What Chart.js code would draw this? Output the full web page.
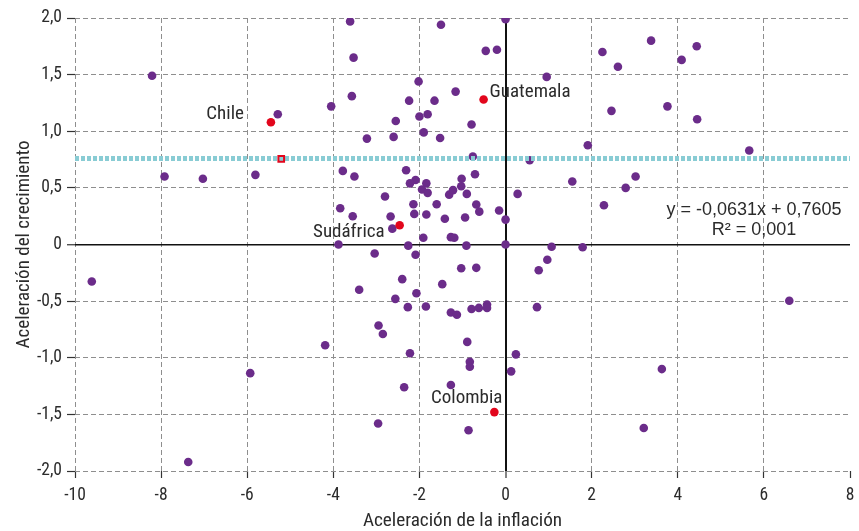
<!DOCTYPE html>
<html>
<head>
<meta charset="utf-8">
<script src="https://cdn.jsdelivr.net/npm/chart.js@4/dist/chart.umd.min.js"></script>
<style>
  html, body { margin: 0; padding: 0; background: #ffffff; }
  #wrap { width: 859px; height: 531px; position: relative; }
</style>
</head>
<body>
<div id="wrap"><canvas id="c" width="859" height="531"></canvas></div>
<script>
// ---- Data ----
const countryX = [-8.21,-3.61,-3.53,-3.57,-4.05,-5.29,-7.92,-7.03,-5.81,-3.78,-3.51,-3.84,-3.55,-3.88,
  -1.50,0.00,-0.46,-0.20,-2.02,-1.16,-2.24,-1.65,-2.55,-1.81,-2.00,-0.79,-3.22,-2.60,-1.90,-1.52,
  -0.76,0.56,-2.31,-0.71,-1.02,-2.09,-2.22,-1.84,-1.03,-1.94,-1.81,-1.31,-1.22,-0.90,0.28,-2.80,
  -2.14,-1.60,-0.68,-0.61,-0.15,-2.12,-1.84,-2.67,-1.41,-0.94,0.00,-2.63,-1.91,-1.27,-1.19,-2.26,
  -0.91,0.00,3.38,4.44,2.25,4.09,2.61,0.955,2.46,3.76,4.45,1.91,5.66,1.55,3.02,2.79,2.285,1.07,1.79,
  -9.61,-3.40,-4.19,-5.93,-7.37,-3.04,-2.09,-1.03,-0.68,-2.40,-1.47,-2.07,-2.56,-2.27,-1.85,-1.27,
  -1.13,-0.79,-0.62,-0.43,-0.43,-2.95,-2.85,-0.89,-2.22,0.24,-0.83,-0.83,0.13,-2.355,-1.27,-2.96,
  -0.86,0.97,0.77,0.73,6.59,3.63,3.21];
const countryY = [1.49,1.97,1.65,1.31,1.22,1.15,0.60,0.58,0.615,0.65,0.60,0.32,0.25,0.00,
  1.94,1.99,1.71,1.72,1.44,1.35,1.27,1.27,1.09,1.15,1.13,1.06,0.935,0.95,0.99,0.94,
  0.777,0.744,0.656,0.62,0.58,0.57,0.54,0.54,0.515,0.485,0.456,0.44,0.48,0.447,0.447,0.424,
  0.356,0.356,0.353,0.29,0.30,0.27,0.265,0.247,0.227,0.238,0.22,0.14,0.06,0.065,0.06,-0.01,
  -0.01,0.00,1.80,1.75,1.70,1.63,1.57,1.48,1.18,1.22,1.106,0.876,0.83,0.556,0.60,0.50,0.347,-0.02,-0.024,
  -0.327,-0.40,-0.89,-1.136,-1.92,-0.08,-0.09,-0.21,-0.206,-0.306,-0.35,-0.43,-0.48,-0.553,-0.547,-0.60,
  -0.62,-0.57,-0.56,-0.53,-0.56,-0.715,-0.79,-0.86,-0.96,-0.97,-1.035,-1.08,-1.12,-1.26,-1.24,-1.58,
  -1.64,-0.135,-0.227,-0.553,-0.497,-1.10,-1.62];

const highlightNames = ["Chile", "Guatemala", "Sudáfrica", "Colombia"];
const highlightX = [-5.45, -0.51, -2.46, -0.26];
const highlightY = [1.08, 1.28, 0.17, -1.48];

const meanMarkerX = [-5.21];
const meanMarkerY = [0.756];

const trendX = [-10, 8];
const trendY = [0.76, 0.76];

const equationLines = ["y = -0,0631x + 0,7605", "R² = 0,001"];

const xTicks = [-10, -8, -6, -4, -2, 0, 2, 4, 6, 8];
const xTickLabels = ["-10", "-8", "-6", "-4", "-2", "0", "2", "4", "6", "8"];
const yTicks = [2.0, 1.5, 1.0, 0.5, 0, -0.5, -1.0, -1.5, -2.0];
const yTickLabels = ["2,0", "1,5", "1,0", "0,5", "0", "-0,5", "-1,0", "-1,5", "-2,0"];

const xTitle = "Aceleración de la inflación";
const yTitle = "Aceleración del crecimiento";

// ---- Styles ----
const FONT = "'Liberation Sans Narrow', 'Roboto Condensed', 'DejaVu Sans Condensed', 'Liberation Sans', sans-serif";
const EQ_FONT = "'Liberation Sans', Arial, sans-serif";
const TEXT = "#2b2b2b";
const PURPLE = "#6b2c8a";
const RED = "#e2061c";
const CYAN = "#89ccd4";
const GRID = "#8e8e8e";

function toPts(xs, ys) { return xs.map((x, i) => ({ x: x, y: ys[i] })); }
function labelFor(list, labels, v) {
  for (let i = 0; i < list.length; i++) if (Math.abs(list[i] - v) < 1e-9) return labels[i];
  return "";
}

const labelOffsets = [
  { dx: -27, dy: -8, align: "right" },
  { dx: 6, dy: -7, align: "left" },
  { dx: -15, dy: 7, align: "right" },
  { dx: 8, dy: -14, align: "right" }
];

const annotate = {
  id: "annotate",
  afterDatasetsDraw(chart) {
    const { ctx, scales } = chart;
    const xs = scales.x, ys = scales.y;
    ctx.save();
    ctx.fillStyle = TEXT;
    ctx.font = "19px " + FONT;
    ctx.textBaseline = "middle";
    highlightNames.forEach((n, i) => {
      const o = labelOffsets[i];
      ctx.textAlign = o.align;
      ctx.fillText(n, xs.getPixelForValue(highlightX[i]) + o.dx, ys.getPixelForValue(highlightY[i]) + o.dy);
    });
    ctx.font = "18px " + EQ_FONT;
    ctx.textAlign = "center";
    const cx = xs.getPixelForValue(5.77);
    ctx.fillText(equationLines[0], cx, ys.getPixelForValue(0.30));
    ctx.fillText(equationLines[1], cx, ys.getPixelForValue(0.13));
    ctx.restore();
  }
};

new Chart(document.getElementById("c"), {
  type: "scatter",
  data: {
    datasets: [
      {
        label: "media",
        data: toPts(meanMarkerX, meanMarkerY),
        pointStyle: "rect",
        pointRadius: 4,
        borderColor: RED,
        borderWidth: 2,
        backgroundColor: "rgba(0,0,0,0)",
        order: 0
      },
      {
        label: "tendencia",
        data: toPts(trendX, trendY),
        showLine: true,
        borderColor: CYAN,
        borderWidth: 5,
        borderDash: [4, 2],
        pointRadius: 0,
        fill: false,
        order: 1
      },
      {
        label: "destacados",
        data: toPts(highlightX, highlightY),
        backgroundColor: RED,
        borderWidth: 0,
        pointRadius: 4.3,
        order: 2
      },
      {
        label: "países",
        data: toPts(countryX, countryY),
        backgroundColor: PURPLE,
        borderWidth: 0,
        pointRadius: 4.3,
        order: 3
      }
    ]
  },
  options: {
    responsive: false,
    animation: false,
    devicePixelRatio: 1,
    layout: { padding: { top: 18, right: 9, left: 0, bottom: 0 } },
    plugins: { legend: { display: false }, tooltip: { enabled: false } },
    scales: {
      x: {
        type: "linear",
        min: -10, max: 8,
        afterBuildTicks: (s) => { s.ticks = xTicks.map(v => ({ value: v })); },
        afterFit: (s) => { s.height = 60; },
        ticks: {
          color: TEXT,
          font: { family: FONT, size: 17.5, lineHeight: 1.55 },
          padding: 4,
          maxRotation: 0,
          callback: (v) => labelFor(xTicks, xTickLabels, v)
        },
        grid: {
          color: (c) => c.tick && c.tick.value === 0 ? "#111111" : (c.tick && c.tick.value === 8 ? "rgba(0,0,0,0)" : GRID),
          lineWidth: (c) => c.tick && c.tick.value === 0 ? 2 : 1,
          tickColor: "#333333",
          tickLength: 7,
          tickWidth: 1.2
        },
        border: {
          display: false,
          dash: (c) => c.tick && c.tick.value === 0 ? [] : [5, 3]
        },
        title: {
          display: true,
          text: xTitle,
          color: TEXT,
          font: { family: FONT, size: 19.2, lineHeight: 1.05 },
          padding: { top: 0, bottom: 0 }
        }
      },
      y: {
        type: "linear",
        min: -2, max: 2,
        afterBuildTicks: (s) => { s.ticks = yTicks.map(v => ({ value: v })); },
        afterFit: (s) => { s.width = 75; },
        ticks: {
          color: TEXT,
          font: { family: FONT, size: 17.5 },
          padding: 5,
          callback: (v) => labelFor(yTicks, yTickLabels, v)
        },
        grid: {
          color: (c) => c.tick && c.tick.value === 0 ? "#111111" : GRID,
          lineWidth: (c) => c.tick && c.tick.value === 0 ? 1.5 : 1,
          tickColor: "#333333",
          tickLength: 8,
          tickWidth: 1.2
        },
        border: {
          display: false,
          dash: (c) => c.tick && c.tick.value === 0 ? [] : [5, 3]
        },
        title: {
          display: true,
          text: yTitle,
          color: TEXT,
          font: { family: FONT, size: 19 },
          padding: { top: 13, bottom: 0 }
        }
      }
    }
  },
  plugins: [annotate]
});
</script>
</body>
</html>
